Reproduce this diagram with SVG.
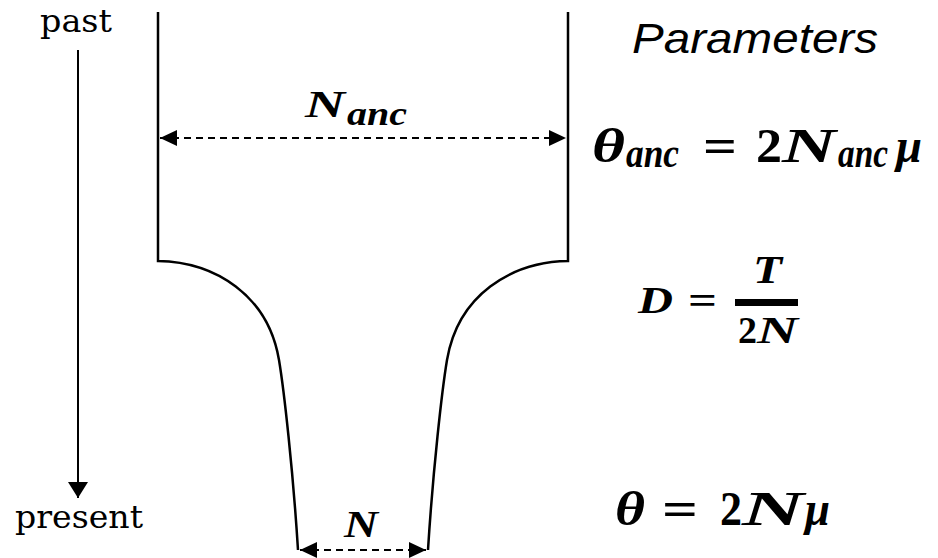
<svg xmlns="http://www.w3.org/2000/svg" width="938" height="558" viewBox="0 0 938 558">
<style>
.wall{fill:none;stroke:#000;stroke-width:2.5}
.dash{fill:none;stroke:#000;stroke-width:2;stroke-dasharray:7 5}
.solid{fill:none;stroke:#000;stroke-width:2}
.lbl{font-family:"DejaVu Serif","Liberation Serif",serif;fill:#000}
.m{font-family:"Liberation Serif","DejaVu Serif",serif;font-style:italic;font-weight:bold;fill:#000}
.u{font-family:"Liberation Serif","DejaVu Serif",serif;font-weight:bold;fill:#000}
.title{font-family:"Liberation Sans",Arial,sans-serif;font-style:italic;fill:#000}
</style>
<defs>
<marker id="ah" viewBox="0 0 17 16" refX="17" refY="8" markerWidth="17" markerHeight="16" markerUnits="userSpaceOnUse" orient="auto-start-reverse">
<path d="M0,0 L17,8 L0,16 z" fill="#000"/>
</marker>
<marker id="ahTime" viewBox="0 0 16 20" refX="16" refY="10" markerWidth="16" markerHeight="20" markerUnits="userSpaceOnUse" orient="auto">
<path d="M0,0 L16,10 L0,20 z" fill="#000"/>
</marker>
</defs>
<rect width="938" height="558" fill="#fff"/>
<g id="population">
<path class="wall" d="M158,12 L158,261 C215,262 268,295 279,360 C284,390 293,470 298,550"/>
<path class="wall" d="M568,12 L568,261 C511,262 458,295 447,360 C442,390 433,470 428,550"/>
</g>
<g id="connectors">
<line class="dash" x1="160" y1="138" x2="566" y2="138" marker-start="url(#ah)" marker-end="url(#ah)"/>
<line class="dash" x1="300" y1="550" x2="426" y2="550" marker-start="url(#ah)" marker-end="url(#ah)"/>
<line class="solid" x1="78" y1="50" x2="78" y2="498" marker-end="url(#ahTime)"/>
</g>
<g id="label-past"><text class="lbl" x="40" y="32" font-size="31" textLength="72" lengthAdjust="spacingAndGlyphs">past</text></g>
<g id="label-present"><text class="lbl" x="15" y="528" font-size="31" textLength="128" lengthAdjust="spacingAndGlyphs">present</text></g>
<g id="label-Nanc">
<text class="m" x="305" y="117" font-size="37" textLength="40" lengthAdjust="spacingAndGlyphs">N</text>
<text class="m" x="347" y="125" font-size="34" textLength="60" lengthAdjust="spacingAndGlyphs">anc</text>
</g>
<g id="label-N">
<text class="m" x="344" y="537" font-size="38" textLength="34" lengthAdjust="spacingAndGlyphs">N</text>
</g>
<g id="title"><text class="title" x="632" y="53" font-size="43" textLength="246" lengthAdjust="spacingAndGlyphs">Parameters</text></g>
<g id="eq-theta-anc">
<text class="m" x="592" y="162" font-size="48" textLength="33" lengthAdjust="spacingAndGlyphs">θ</text>
<text class="m" x="626" y="167" font-size="40" textLength="53" lengthAdjust="spacingAndGlyphs">anc</text>
<text class="u" x="703" y="162" font-size="48" textLength="34" lengthAdjust="spacingAndGlyphs">=</text>
<text class="u" x="756" y="162" font-size="48" textLength="26" lengthAdjust="spacingAndGlyphs">2</text>
<text class="m" x="782" y="162" font-size="48" textLength="54" lengthAdjust="spacingAndGlyphs">N</text>
<text class="m" x="838" y="167" font-size="40" textLength="50" lengthAdjust="spacingAndGlyphs">anc</text>
<text class="m" x="896" y="162" font-size="48" textLength="26" lengthAdjust="spacingAndGlyphs">μ</text>
</g>
<g id="eq-D">
<text class="m" x="638" y="313" font-size="37" textLength="35" lengthAdjust="spacingAndGlyphs">D</text>
<text class="u" x="688" y="314" font-size="40" textLength="29" lengthAdjust="spacingAndGlyphs">=</text>
<rect x="735" y="299" width="63" height="7" fill="#000"/>
<text class="m" x="753" y="283" font-size="40" textLength="29" lengthAdjust="spacingAndGlyphs">T</text>
<text class="u" x="738" y="343" font-size="38" textLength="19" lengthAdjust="spacingAndGlyphs">2</text>
<text class="m" x="757" y="343" font-size="38" textLength="41" lengthAdjust="spacingAndGlyphs">N</text>
</g>
<g id="eq-theta">
<text class="m" x="615" y="525" font-size="48" textLength="30" lengthAdjust="spacingAndGlyphs">θ</text>
<text class="u" x="662" y="525" font-size="48" textLength="36" lengthAdjust="spacingAndGlyphs">=</text>
<text class="u" x="720" y="525" font-size="48" textLength="22" lengthAdjust="spacingAndGlyphs">2</text>
<text class="m" x="742" y="525" font-size="48" textLength="62" lengthAdjust="spacingAndGlyphs">N</text>
<text class="m" x="805" y="525" font-size="48" textLength="25" lengthAdjust="spacingAndGlyphs">μ</text>
</g>
</svg>
